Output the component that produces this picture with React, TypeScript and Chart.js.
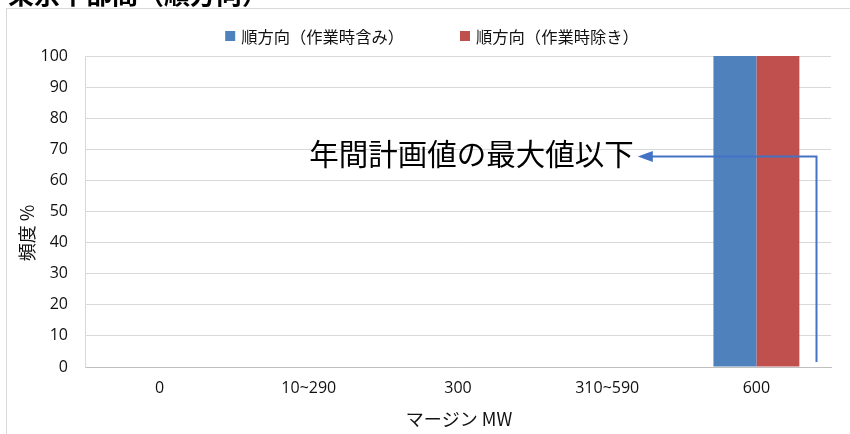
import React, { useEffect, useRef } from "react";
import { Chart, registerables } from "chart.js";

Chart.register(...registerables);

const chartTitle = "東京中部間（順方向）";
const categories = ["0", "10~290", "300", "310~590", "600"];
const seriesLabels = ["順方向（作業時含み）", "順方向（作業時除き）"];
const withWork = [0, 0, 0, 0, 100];
const withoutWork = [0, 0, 0, 0, 100];
const yTitle = "頻度 %";
const xTitle = "マージン MW";
const annotationText = "年間計画値の最大値以下";
const annotationValue = 68;

const NUM_FONT = "'Open Sans', 'Noto Sans CJK JP', sans-serif";
const JP_FONT = "'Noto Sans CJK JP', sans-serif";

const overlay = {
  id: "overlay",
  beforeDraw(chart: any) {
    const ctx = chart.ctx;
    ctx.save();
    ctx.fillStyle = "#ffffff";
    ctx.fillRect(0, 0, chart.width, chart.height);
    ctx.strokeStyle = "#d9d9d9";
    ctx.lineWidth = 1;
    ctx.strokeRect(6.5, 8.5, chart.width, chart.height + 10);
    // title (cut off at top)
    ctx.fillStyle = "#000000";
    ctx.font = `bold 26px ${JP_FONT}`;
    ctx.textAlign = "left";
    ctx.textBaseline = "alphabetic";
    ctx.fillText(chartTitle, 8, 4);
    ctx.restore();
  },
  afterDatasetsDraw(chart: any) {
    const ctx = chart.ctx;
    const xs = chart.scales.x;
    const ys = chart.scales.y;
    const area = chart.chartArea;
    ctx.save();
    // legend
    ctx.font = `16.3px ${JP_FONT}`;
    ctx.textBaseline = "middle";
    ctx.textAlign = "left";
    const box = 10;
    const gapBox = 6;
    const gapItem = 56;
    const ds = chart.data.datasets;
    const widths = ds.map((d: any) => box + gapBox + ctx.measureText(d.label).width);
    const total = widths.reduce((a: number, b: number) => a + b, 0) + gapItem * (ds.length - 1);
    let lx = 432 - total / 2;
    const ly = 36;
    ds.forEach((d: any, i: number) => {
      ctx.fillStyle = d.backgroundColor;
      ctx.fillRect(lx, ly - box / 2, box, box);
      ctx.fillStyle = "#111111";
      ctx.fillText(d.label, lx + box + gapBox, ly + 1);
      lx += widths[i] + gapItem;
    });
    // axis titles
    ctx.fillStyle = "#111111";
    ctx.font = `18px ${JP_FONT}`;
    ctx.textAlign = "center";
    ctx.fillText(xTitle, (area.left + area.right) / 2 + 1, 419);
    ctx.save();
    ctx.translate(27, 233);
    ctx.rotate(-Math.PI / 2);
    ctx.fillText(yTitle, 0, 0);
    ctx.restore();
    // annotation arrow
    const yA = Math.round(ys.getPixelForValue(annotationValue)) + 0.5;
    const yB = ys.getPixelForValue(1.6);
    const xRight = Math.round(xs.getPixelForValue(4.4)) + 0.5;
    const xTip = xs.getPixelForValue(3.205);
    ctx.strokeStyle = "#4472c4";
    ctx.fillStyle = "#4472c4";
    ctx.lineWidth = 2;
    ctx.beginPath();
    ctx.moveTo(xRight, yB);
    ctx.lineTo(xRight, yA);
    ctx.lineTo(xTip + 12, yA);
    ctx.stroke();
    ctx.beginPath();
    ctx.moveTo(xTip, yA);
    ctx.lineTo(xTip + 15, yA - 5.5);
    ctx.lineTo(xTip + 15, yA + 5.5);
    ctx.closePath();
    ctx.fill();
    ctx.fillStyle = "#000000";
    ctx.font = `29.5px ${JP_FONT}`;
    ctx.textAlign = "right";
    ctx.textBaseline = "middle";
    ctx.fillText(annotationText, xTip - 4, yA - 3);
    ctx.restore();
  },
};

export default function App() {
  const ref = useRef<HTMLCanvasElement | null>(null);
  useEffect(() => {
    if (!ref.current) return;
    const chart = new Chart(ref.current, {
      type: "bar",
      data: {
        labels: categories,
        datasets: [
          { label: seriesLabels[0], data: withWork, backgroundColor: "#4f81bd" },
          { label: seriesLabels[1], data: withoutWork, backgroundColor: "#c0504d" },
        ],
      },
      options: {
        responsive: false,
        animation: false,
        layout: { padding: { left: 0, right: 19, top: 56, bottom: 0 } },
        plugins: { legend: { display: false }, title: { display: false }, tooltip: { enabled: false } },
        datasets: { bar: { categoryPercentage: 0.576, barPercentage: 1.0 } },
        scales: {
          x: {
            afterFit: (s: any) => { s.height = 67; },
            grid: { display: false, drawTicks: false },
            border: { color: "#bfbfbf", width: 1 },
            ticks: { color: "#111111", font: { family: NUM_FONT, size: 16 }, padding: 12, maxRotation: 0, autoSkip: false },
          },
          y: {
            min: 0,
            max: 100,
            afterFit: (s: any) => { s.width = 85; },
            grid: { color: "#d9d9d9", drawTicks: false },
            border: { color: "#d9d9d9", width: 1 },
            ticks: { stepSize: 10, color: "#111111", font: { family: NUM_FONT, size: 16 }, padding: 17 },
          },
        },
      },
      plugins: [overlay],
    });
    return () => chart.destroy();
  }, []);
  return (
    <div style={{ position: "fixed", left: 0, top: 0, width: 850, height: 434, background: "#fff" }}>
      <canvas ref={ref} width={850} height={434} style={{ display: "block" }} />
    </div>
  );
}
